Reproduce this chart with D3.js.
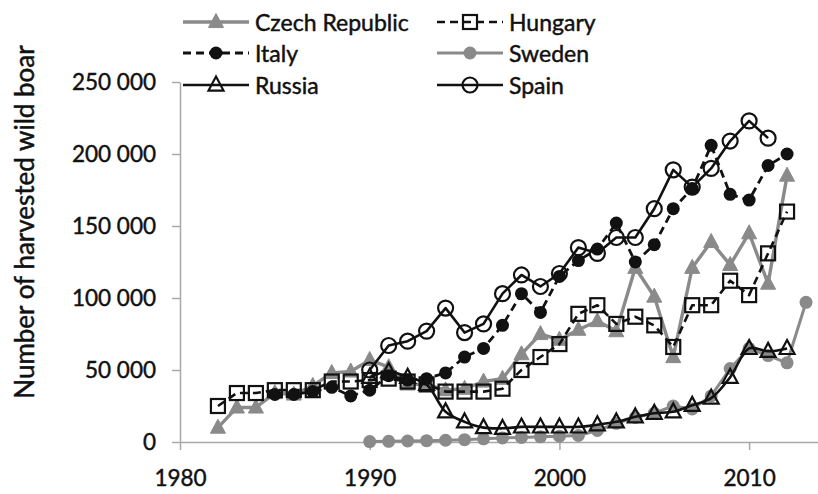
<!DOCTYPE html>
<html>
<head>
<meta charset="utf-8">
<script src="https://cdn.jsdelivr.net/npm/d3@7"></script>
<style>
  html, body { margin: 0; padding: 0; background: #fff; }
  svg { display: block; }
  text { font-family: Lato, "Open Sans", "Liberation Sans", sans-serif; fill: #111; stroke: #111; stroke-width: 0.45px; }
</style>
</head>
<body>
<svg id="chart" width="818" height="494"></svg>
<script>
// ---- data ----
const czechYears = d3.range(1982, 2013);
const czechValues = [10000, 24000, 24000, 34000, 33000, 39000, 48000, 49000, 57000, 52000,
  40000, 40000, 36000, 37000, 42000, 44000, 61000, 75000, 71000, 78000,
  84000, 77000, 121000, 101000, 59000, 121000, 139000, 123000, 145000, 110000, 185000];

const hungaryYears = d3.range(1982, 2013);
const hungaryValues = [25000, 34000, 34000, 36000, 36000, 36000, 42000, 42000, 43000, 44000,
  42000, 40000, 35000, 35000, 35000, 37000, 50000, 59000, 68000, 89000,
  95000, 82000, 87000, 81000, 66000, 95000, 95000, 112000, 102000, 131000, 160000];

const italyYears = d3.range(1985, 2013);
const italyValues = [33000, 33000, 35000, 38000, 32000, 36000, 46000, 43000, 44000, 48000,
  59000, 65000, 81000, 103000, 90000, 115000, 126000, 134000, 152000, 125000,
  137000, 162000, 176000, 206000, 172000, 168000, 192000, 200000];

const swedenYears = d3.range(1990, 2014);
const swedenValues = [300, 500, 700, 900, 1200, 1600, 2200, 2800, 3200, 3600,
  4000, 4500, 8000, 13000, 17000, 20000, 25000, 23000, 32000, 51000,
  65000, 60000, 55000, 97000];

const russiaYears = d3.range(1990, 2013);
const russiaValues = [45000, 49000, 45000, 40000, 21000, 14000, 10000, 9500, 10500, 10500,
  10500, 10500, 12000, 14000, 17500, 20000, 21000, 25500, 30500, 45000,
  65000, 63000, 65000];

const spainYears = d3.range(1990, 2012);
const spainValues = [50000, 67000, 70000, 77000, 93000, 76000, 82000, 103000, 116000, 108000,
  117000, 135000, 131000, 142000, 142000, 162000, 189000, 177000, 190000, 209000,
  223000, 211000];

const xTicks = [1980, 1990, 2000, 2010];
const yTicks = [0, 50000, 100000, 150000, 200000, 250000];
const yTitle = "Number of harvested wild boar";

// ---- styles ----
const GRAY = "#8a8a8a";
const series = [
  {name: "Czech Republic", years: czechYears, values: czechValues, color: GRAY, width: 3.4, dash: null, marker: "triangle", fill: GRAY, curve: d3.curveLinear},
  {name: "Hungary", years: hungaryYears, values: hungaryValues, color: "#111", width: 2.6, dash: "8,5", marker: "square", fill: "none", curve: d3.curveLinear},
  {name: "Italy", years: italyYears, values: italyValues, color: "#111", width: 2.8, dash: "8,5", marker: "dot", fill: "#111", curve: d3.curveLinear},
  {name: "Sweden", years: swedenYears, values: swedenValues, color: GRAY, width: 3, dash: null, marker: "dot", fill: GRAY, curve: d3.curveLinear},
  {name: "Russia", years: russiaYears, values: russiaValues, color: "#111", width: 2.6, dash: null, marker: "triangle", fill: "none", curve: d3.curveCatmullRom},
  {name: "Spain", years: spainYears, values: spainValues, color: "#111", width: 2.6, dash: null, marker: "circle", fill: "none", curve: d3.curveLinear}
];

const svg = d3.select("#chart");
const x = d3.scaleLinear().domain([1980, 2014]).range([180, 825]);
const y = d3.scaleLinear().domain([0, 250000]).range([442, 82]);

const fmt = v => d3.format(",")(v).replace(/,/g, " ");

// axes
const gx = svg.append("g").attr("transform", `translate(0,${y(0)})`)
  .call(d3.axisBottom(x).tickValues(xTicks).tickFormat(d3.format("d")).tickSize(8).tickSizeOuter(0).tickPadding(20));
const gy = svg.append("g").attr("transform", `translate(${x(1980)},0)`)
  .call(d3.axisLeft(y).tickValues(yTicks).tickFormat(fmt).tickSize(8).tickSizeOuter(0).tickPadding(16));
[gx, gy].forEach(g => {
  g.select(".domain").attr("stroke", "#a8a8a8").attr("stroke-width", 1.5);
  g.selectAll(".tick line").attr("stroke", "#a8a8a8").attr("stroke-width", 1.5);
  g.selectAll(".tick text").attr("font-size", 22.5).attr("fill", "#111")
    .attr("font-family", "Lato, 'Open Sans', sans-serif");
});

// y title
svg.append("text")
  .attr("transform", `translate(24,${222}) rotate(-90)`)
  .attr("text-anchor", "middle").attr("dominant-baseline", "central")
  .attr("font-size", 26).text(yTitle);

function drawMarker(g, type, cx, cy, s) {
  if (type === "circle" || type === "dot") {
    const r = type === "circle" ? 7.5 : 6.5;
    g.append("circle").attr("cx", cx).attr("cy", cy).attr("r", r)
      .attr("fill", s.fill).attr("stroke", s.color).attr("stroke-width", type === "circle" ? 2.2 : 0);
  } else if (type === "square") {
    g.append("rect").attr("x", cx - 7).attr("y", cy - 7).attr("width", 14).attr("height", 14)
      .attr("fill", "none").attr("stroke", s.color).attr("stroke-width", 2.2);
  } else if (type === "triangle") {
    const h = 14, w = 15;
    g.append("path")
      .attr("d", `M${cx},${cy - h * 0.6}L${cx + w / 2},${cy + h * 0.4}L${cx - w / 2},${cy + h * 0.4}Z`)
      .attr("fill", s.fill).attr("stroke", s.color).attr("stroke-width", s.fill === "none" ? 2.2 : 1)
      .attr("stroke-linejoin", "miter");
  }
}

// series
series.forEach(s => {
  const pts = s.years.map((yr, i) => [x(yr), y(s.values[i])]);
  const g = svg.append("g");
  g.append("path").attr("d", d3.line().curve(s.curve)(pts))
    .attr("fill", "none").attr("stroke", s.color).attr("stroke-width", s.width)
    .attr("stroke-dasharray", s.dash).attr("stroke-linejoin", "round");
  pts.forEach(p => drawMarker(g, s.marker, p[0], p[1], s));
});

// legend
const legCols = [183, 437];
const legRows = [22, 53, 85];
series.forEach((s, i) => {
  const lx = legCols[i % 2], ly = legRows[Math.floor(i / 2)];
  const g = svg.append("g");
  g.append("line").attr("x1", lx).attr("x2", lx + 66).attr("y1", ly).attr("y2", ly)
    .attr("stroke", s.color).attr("stroke-width", s.width).attr("stroke-dasharray", s.dash);
  drawMarker(g, s.marker, lx + 33, ly, s);
  g.append("text").attr("x", lx + 72).attr("y", ly).attr("dominant-baseline", "central")
    .attr("font-size", 23).text(s.name);
});
</script>
</body>
</html>
